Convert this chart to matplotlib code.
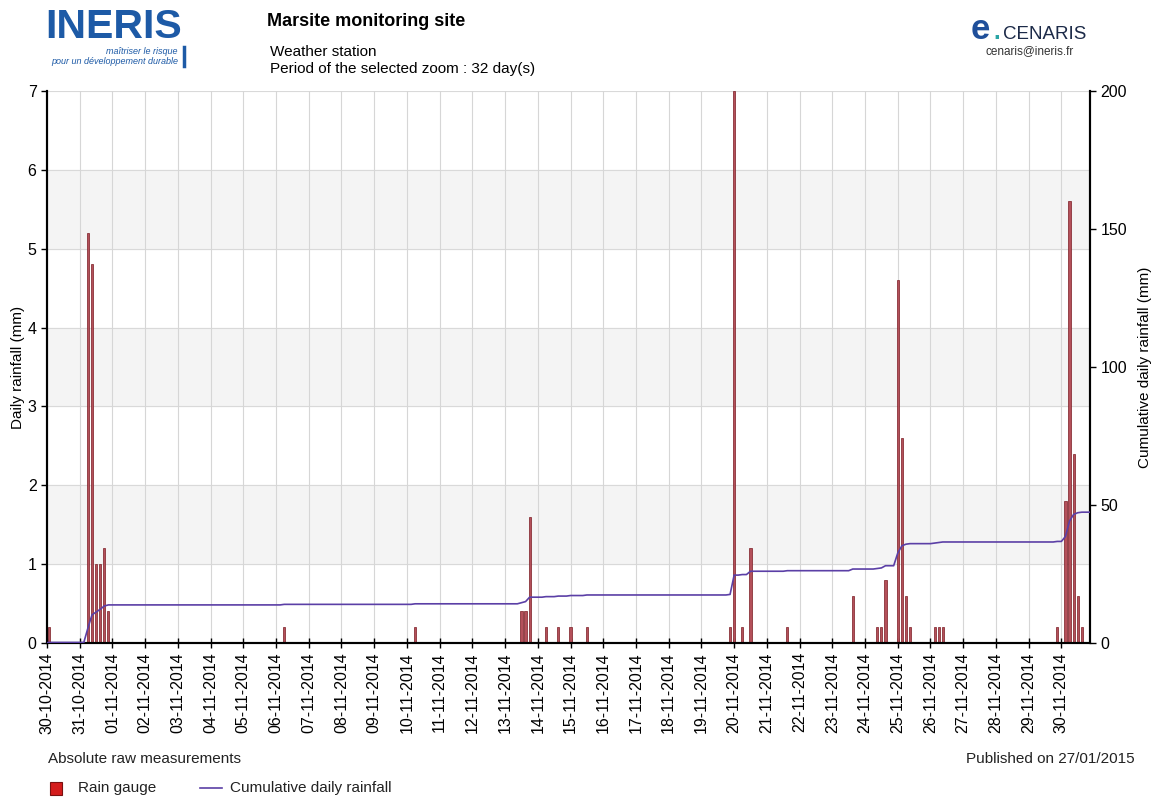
import matplotlib
matplotlib.use('Agg')
import matplotlib.pyplot as plt
import matplotlib.dates as mdates
from matplotlib.patches import Rectangle
from matplotlib.lines import Line2D
import pandas as pd
import numpy as np

plt.rcParams['font.family'] = ['Liberation Sans', 'DejaVu Sans']

# rain gauge readings (3-hourly accumulations, mm)
rain_times = [
    '30-10-2014 01:30',
    '31-10-2014 06:00', '31-10-2014 09:00', '31-10-2014 12:00',
    '31-10-2014 15:00', '31-10-2014 18:00', '31-10-2014 21:00',
    '06-11-2014 06:00', '10-11-2014 06:00',
    '13-11-2014 12:00', '13-11-2014 15:00', '13-11-2014 18:00',
    '14-11-2014 06:00', '14-11-2014 15:00', '15-11-2014 00:00', '15-11-2014 12:00',
    '19-11-2014 21:00', '20-11-2014 00:00', '20-11-2014 06:00', '20-11-2014 12:00',
    '21-11-2014 15:00', '23-11-2014 15:00',
    '24-11-2014 09:00', '24-11-2014 12:00', '24-11-2014 15:00',
    '25-11-2014 00:00', '25-11-2014 03:00', '25-11-2014 06:00', '25-11-2014 09:00',
    '26-11-2014 03:00', '26-11-2014 06:00', '26-11-2014 09:00',
    '29-11-2014 21:00', '30-11-2014 03:00', '30-11-2014 06:00',
    '30-11-2014 09:00', '30-11-2014 12:00', '30-11-2014 15:00',
]
rain_mm = [
    0.2,
    5.2, 4.8, 1.0,
    1.0, 1.2, 0.4,
    0.2, 0.2,
    0.4, 0.4, 1.6,
    0.2, 0.2, 0.2, 0.2,
    0.2, 7.0, 0.2, 1.2,
    0.2, 0.6,
    0.2, 0.2, 0.8,
    4.6, 2.6, 0.6, 0.2,
    0.2, 0.2, 0.2,
    0.2, 1.8, 5.6,
    2.4, 0.6, 0.2,
]

start = pd.Timestamp(2014, 10, 30)
end = pd.Timestamp(2014, 11, 30, 21, 0)
day_ticks = pd.date_range('2014-10-30', '2014-11-30', freq='D')

t = pd.to_datetime(rain_times, format='%d-%m-%Y %H:%M')
rain = np.array(rain_mm)

# cumulative curve: ramps over each 3-hour step
step = pd.Timedelta(hours=3)
cum = np.cumsum(rain)
line_t = [start]
line_v = [0.0]
prev = 0.0
for ti, c in zip(t, cum):
    line_t += [ti - step, ti]
    line_v += [prev, c]
    prev = c
line_t.append(end)
line_v.append(prev)

W, H = 1163, 801
fig = plt.figure(figsize=(W / 100, H / 100), dpi=100)
ax = fig.add_axes([47 / W, 1 - 643 / H, (1090 - 47) / W, (643 - 91) / H])
ax2 = ax.twinx()

for lo in (1, 3, 5):
    ax.axhspan(lo, lo + 1, color='#f4f4f4', zorder=0)
for yv in range(1, 8):
    ax.axhline(yv, color='#d9d9d9', lw=0.8, zorder=0.5)
for d in day_ticks:
    ax.axvline(d, color='#d6d6d6', lw=0.8, zorder=0.5)

ax.bar(t, rain, width=0.065, color='#b4505a', edgecolor='#7a1b22', linewidth=0.5, zorder=2)
ax2.plot(line_t, line_v, color='#5b3fa6', lw=1.2, zorder=3)

ax.set_xlim(start, end)
ax.set_ylim(0, 7)
ax2.set_ylim(0, 200)
ax.set_yticks(range(0, 8))
ax2.set_yticks([0, 50, 100, 150, 200])

ax.set_xticks(day_ticks)
ax.xaxis.set_major_formatter(mdates.DateFormatter('%d-%m-%Y'))
ax.tick_params(axis='x', rotation=90, labelsize=11.5, direction='inout', length=7, width=1, pad=3)
ax.tick_params(axis='y', labelsize=11.5, length=4, width=1)
ax2.tick_params(axis='y', labelsize=11.5, length=4, width=1)

ax.set_ylabel('Daily rainfall (mm)', fontsize=11, labelpad=2)
ax2.set_ylabel('Cumulative daily rainfall (mm)', fontsize=11, labelpad=8)

for a in (ax, ax2):
    a.spines['top'].set_visible(False)
    for s in ('left', 'bottom', 'right'):
        a.spines[s].set_linewidth(1.5)
        a.spines[s].set_color('black')
ax.set_zorder(ax2.get_zorder() - 1)
ax2.patch.set_visible(False)
ax.patch.set_facecolor('white')


def fx(px):
    return px / W


def fy(py):
    return 1 - py / H


# header
fig.text(fx(45), fy(38), 'INERIS', fontsize=29.5, fontweight='bold', color='#1d5aa6', va='baseline', ha='left')
fig.text(fx(178), fy(52), 'maîtriser le risque', fontsize=6.5, style='italic', color='#1d5aa6', ha='right', va='center')
fig.text(fx(178), fy(62), 'pour un développement durable', fontsize=6.5, style='italic', color='#1d5aa6', ha='right', va='center')
fig.add_artist(Line2D([fx(184), fx(184)], [fy(47), fy(66)], color='#1d5aa6', lw=2.5))

fig.text(fx(267), fy(22), 'Marsite monitoring site', fontsize=13, fontweight='bold', va='center')
fig.text(fx(270), fy(52), 'Weather station', fontsize=11, va='center')
fig.text(fx(270), fy(69), 'Period of the selected zoom : 32 day(s)', fontsize=11, va='center')

fig.text(fx(971), fy(39), 'e', fontsize=25, fontweight='bold', color='#1f4f9a', va='baseline', ha='left')
fig.text(fx(993), fy(39), '.', fontsize=17, color='#2aa5a5', fontweight='bold', va='baseline', ha='left')
fig.text(fx(1003), fy(39), 'CENARIS', fontsize=13.5, color='#1c2a48', va='baseline', ha='left')
fig.text(fx(1030), fy(51), 'cenaris@ineris.fr', fontsize=8.5, color='#333333', va='center', ha='center')

# footer
fig.text(fx(48), fy(759), 'Absolute raw measurements', fontsize=11, color='#222222', va='center')
fig.text(fx(1135), fy(759), 'Published on 27/01/2015', fontsize=11, color='#222222', va='center', ha='right')

fig.add_artist(Rectangle((fx(50), fy(795)), 12 / W, 13 / H, transform=fig.transFigure,
                         facecolor='#d41c1c', edgecolor='#7a1010', lw=0.8))
fig.text(fx(78), fy(788), 'Rain gauge', fontsize=11, color='#222222', va='center')
fig.add_artist(Line2D([fx(200), fx(222)], [fy(788), fy(788)], color='#5b3fa6', lw=1.2))
fig.text(fx(230), fy(788), 'Cumulative daily rainfall', fontsize=11, color='#222222', va='center')

fig.savefig('out.png', dpi=100)
